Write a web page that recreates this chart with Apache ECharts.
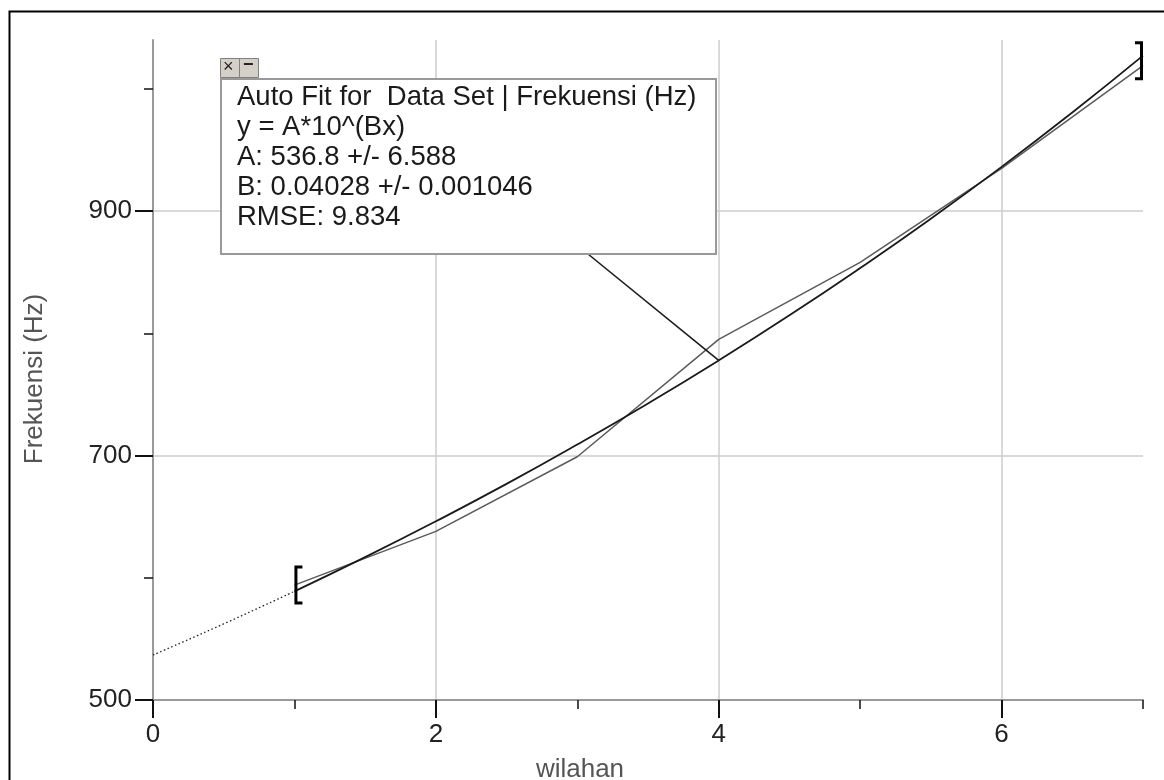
<!DOCTYPE html>
<html>
<head>
<meta charset="utf-8">
<script src="https://cdn.jsdelivr.net/npm/echarts@6/dist/echarts.min.js"></script>
<style>
html,body{margin:0;padding:0;background:#fff;overflow:hidden;}
#chart{width:1164px;height:780px;}
</style>
</head>
<body>
<div id="chart"></div>
<script>
// ---- data ----
const xMajorTicks = [0, 2, 4, 6];
const xMinorTicks = [1, 3, 5, 7];
const yMajorTicks = [500, 700, 900];
const yMinorTicks = [600, 800, 1000];

const wilahan = [1, 2, 3, 4, 5, 6, 7];
const frekuensi = [594, 638, 699, 795, 858, 935, 1019];

// fitted curve (extrapolated part x<=1 is dotted)
const fitX = [0, 0.5, 1, 1.5, 2, 2.5, 3, 3.5, 4, 4.5, 5, 5.5, 6, 6.5, 7];
const fitY = [536.8, 562.3, 588.9, 616.9, 646.2, 676.8, 709.0, 742.6, 777.8, 814.7, 853.4, 893.8, 936.2, 980.7, 1027.2];

// fit range brackets
const bracketX = [1, 7];
const bracketY = [594, 1023];
const bracketSide = ['left', 'right'];

// annotation target (fit curve at x = 4)
const annotX = 4;
const annotY = 777.8;

const fitBoxLines = [
  'Auto Fit for  Data Set | Frekuensi (Hz)',
  'y = A*10^(Bx)',
  'A: 536.8 +/- 6.588',
  'B: 0.04028 +/- 0.001046',
  'RMSE: 9.834'
];

const FONT = "'Liberation Sans', Arial, Helvetica, sans-serif";

const fitDotted = [];
const fitSolid = [];
fitX.forEach((x, i) => {
  if (x <= 1) fitDotted.push([x, fitY[i]]);
  if (x >= 1) fitSolid.push([x, fitY[i]]);
});
const dataPairs = wilahan.map((x, i) => [x, frekuensi[i]]);
const bracketData = bracketX.map((x, i) => [x, bracketY[i], i]);

const chart = echarts.init(document.getElementById('chart'), null, {renderer: 'canvas'});

const BOXZ = 100;
const boxTexts = fitBoxLines.map((t, i) => ({
  type: 'text',
  z: BOXZ + 2,
  left: 237,
  top: 83 + i * 30,
  style: {text: t, font: '27.5px ' + FONT, fill: '#1a1a1a'}
}));

const option = {
  animation: false,
  backgroundColor: '#ffffff',
  grid: {left: 153, right: 21, top: 40, bottom: 80, containLabel: false, outerBoundsMode: 'none'},
  xAxis: [
    {
      type: 'value', min: 0, max: 7, position: 'bottom',
      name: 'wilahan', nameLocation: 'middle', nameGap: 57,
      nameTextStyle: {fontFamily: FONT, fontSize: 26, color: '#555', padding: [0, 136, 0, 0]},
      axisLine: {show: true, onZero: false, lineStyle: {color: '#999', width: 2}},
      axisTick: {show: true, customValues: xMajorTicks, length: 18, lineStyle: {color: '#111', width: 2}},
      axisLabel: {show: true, customValues: xMajorTicks, fontFamily: FONT, fontSize: 26, color: '#222', margin: 22},
      splitLine: {show: true, lineStyle: {color: '#cdcdcd', width: 1.5}}
    },
    {
      type: 'value', min: 0, max: 7, position: 'bottom',
      axisLine: {show: false, onZero: false},
      axisTick: {show: true, customValues: xMinorTicks, length: 9, lineStyle: {color: '#111', width: 1.5}},
      axisLabel: {show: false},
      splitLine: {show: false}
    }
  ],
  yAxis: [
    {
      type: 'value', min: 500, max: 1040, position: 'left',
      name: 'Frekuensi (Hz)', nameLocation: 'middle', nameGap: 105,
      nameTextStyle: {fontFamily: FONT, fontSize: 26, color: '#555', padding: [0, 18, 0, 0]},
      axisLine: {show: true, onZero: false, lineStyle: {color: '#999', width: 2}},
      axisTick: {show: true, customValues: yMajorTicks, length: 18, lineStyle: {color: '#111', width: 2}},
      axisLabel: {show: true, customValues: yMajorTicks, fontFamily: FONT, fontSize: 26, color: '#222', margin: 21},
      splitLine: {show: true, lineStyle: {color: '#cdcdcd', width: 1.5}}
    },
    {
      type: 'value', min: 500, max: 1040, position: 'left',
      axisLine: {show: false, onZero: false},
      axisTick: {show: true, customValues: yMinorTicks, length: 9, lineStyle: {color: '#111', width: 1.5}},
      axisLabel: {show: false},
      splitLine: {show: false}
    }
  ],
  series: [
    {
      name: 'Frekuensi (Hz)', type: 'line', data: dataPairs,
      showSymbol: false, symbol: 'none',
      lineStyle: {color: '#5a5a5a', width: 1.5}, z: 3
    },
    {
      name: 'fit', type: 'line', data: fitSolid, smooth: true,
      showSymbol: false, symbol: 'none',
      lineStyle: {color: '#1a1a1a', width: 1.8}, z: 4
    },
    {
      name: 'fit-extrapolated', type: 'line', data: fitDotted, smooth: true,
      showSymbol: false, symbol: 'none',
      lineStyle: {color: '#222', width: 1.3, type: [1.5, 2.5]}, z: 4
    },
    {
      name: 'range', type: 'custom', data: bracketData, z: 6,
      renderItem: function (params, api) {
        const p = api.coord([api.value(0), api.value(1)]);
        const side = bracketSide[api.value(2)];
        const h = 18;
        const w = 8;
        let pts;
        if (side === 'left') {
          pts = [[p[0] + w, p[1] - h], [p[0] + 1.5, p[1] - h], [p[0] + 1.5, p[1] + h], [p[0] + w, p[1] + h]];
        } else {
          pts = [[p[0] - w, p[1] - h], [p[0] - 1.5, p[1] - h], [p[0] - 1.5, p[1] + h], [p[0] - w, p[1] + h]];
        }
        return {type: 'polyline', shape: {points: pts}, style: {stroke: '#000', lineWidth: 3, fill: null}};
      }
    }
  ],
  graphic: [
    {
      type: 'rect', left: 7, top: 9, z: 0, silent: true,
      shape: {x: 0, y: 0, width: 1200, height: 800},
      style: {fill: null, stroke: '#000', lineWidth: 2}
    },
    {type: 'rect', z: BOXZ, left: 220, top: 78, shape: {x: 0, y: 0, width: 495, height: 175},
      style: {fill: '#fff', stroke: '#999', lineWidth: 2}},
    {type: 'rect', z: BOXZ, left: 220, top: 58, shape: {x: 0, y: 0, width: 19, height: 19},
      style: {fill: '#d4d0c8', stroke: '#808080', lineWidth: 1}},
    {type: 'rect', z: BOXZ, left: 239, top: 58, shape: {x: 0, y: 0, width: 19, height: 19},
      style: {fill: '#d4d0c8', stroke: '#808080', lineWidth: 1}},
    {type: 'text', z: BOXZ + 1, left: 223, top: 58, style: {text: '×', font: '18px ' + FONT, fill: '#222'}},
    {type: 'text', z: BOXZ + 1, left: 243, top: 56, style: {text: '−', font: 'bold 18px ' + FONT, fill: '#222'}}
  ].concat(boxTexts)
};

chart.setOption(option);

const target = chart.convertToPixel({xAxisIndex: 0, yAxisIndex: 0}, [annotX, annotY]);
const g = option.graphic.slice();
g.push({
  type: 'line', z: 50, silent: true,
  shape: {x1: 588, y1: 254, x2: target[0], y2: target[1]},
  style: {stroke: '#1a1a1a', lineWidth: 1.6}
});
chart.setOption({graphic: g}, {replaceMerge: ['graphic']});
</script>
</body>
</html>
